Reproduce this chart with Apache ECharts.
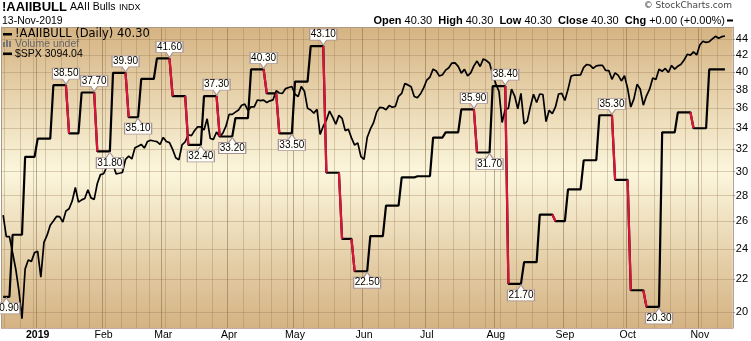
<!DOCTYPE html>
<html><head><meta charset="utf-8">
<script src="https://cdn.jsdelivr.net/npm/echarts@6/dist/echarts.min.js"></script>
<style>html,body{margin:0;padding:0;background:#fff}#c{width:751px;height:341px}</style>
</head><body><div id="c"></div>
<script>
// ---- calendar ----
const firstDay = '2018-12-14', lastAxisDay = '2019-11-15', lastDataDay = '2019-11-13';
const holidays = ['2018-12-25','2019-01-01','2019-01-21','2019-02-18','2019-04-19','2019-05-27','2019-07-04','2019-09-02'];
const monthNames = ['Jan','Feb','Mar','Apr','May','Jun','Jul','Aug','Sep','Oct','Nov','Dec'];

// ---- AAII bullish readings (weekly, dated Wednesday) ----
const aaiiDates = ['2018-12-12','2018-12-19','2018-12-26','2019-01-02','2019-01-09','2019-01-16','2019-01-23','2019-01-30',
 '2019-02-06','2019-02-13','2019-02-20','2019-02-27','2019-03-06','2019-03-13','2019-03-20','2019-03-27',
 '2019-04-03','2019-04-10','2019-04-17','2019-04-24','2019-05-01','2019-05-08','2019-05-15','2019-05-22',
 '2019-05-29','2019-06-05','2019-06-12','2019-06-19','2019-06-26','2019-07-03','2019-07-10','2019-07-17',
 '2019-07-24','2019-07-31','2019-08-07','2019-08-14','2019-08-21','2019-08-28','2019-09-04','2019-09-11',
 '2019-09-18','2019-09-25','2019-10-02','2019-10-09','2019-10-16','2019-10-23','2019-10-30','2019-11-06'];
const aaiiValues = [20.9,25.0,31.3,33.0,38.5,33.5,37.7,31.8,
 39.9,35.1,39.2,41.6,37.3,32.4,37.3,33.2,
 35.0,40.3,37.6,33.5,38.9,43.1,29.9,24.7,
 22.5,24.9,27.2,29.5,29.6,33.1,33.6,35.9,
 31.7,38.4,21.7,23.1,26.5,26.0,28.5,31.0,
 35.3,29.3,21.3,20.3,33.6,35.6,34.0,40.3];
// annotated turning points
const noteDates = ['2018-12-17','2019-01-15','2019-01-29','2019-02-05','2019-02-12','2019-02-19','2019-03-05','2019-03-19',
 '2019-03-26','2019-04-02','2019-04-16','2019-04-30','2019-05-14','2019-06-04','2019-07-23','2019-07-30',
 '2019-08-06','2019-08-13','2019-09-24','2019-10-15'];

// ---- $SPX daily closes ----
const spxDec18 = [2599.95,2545.94,2546.16,2506.96,2467.42,2416.62,2351.10,2467.70,2488.83,2485.74,2506.85];
const spxJan = [2510.03,2447.89,2531.94,2549.69,2574.41,2584.96,2596.64,2596.26,2582.61,2610.30,2616.10,2635.96,2670.71,2632.90,2638.70,2642.33,2664.76,2643.85,2640.00,2681.05,2704.10];
const spxFeb = [2706.53,2724.87,2737.70,2731.61,2706.05,2707.88,2709.80,2744.73,2753.03,2745.73,2775.60,2779.76,2784.70,2774.88,2792.67,2796.11,2793.90,2792.38,2784.49];
const spxMar = [2803.69,2792.81,2789.65,2771.45,2748.93,2743.07,2783.30,2791.52,2810.92,2808.48,2822.48,2832.94,2832.57,2824.23,2854.88,2800.71,2798.36,2818.46,2805.37,2815.44,2834.40];
const spxApr = [2867.19,2867.24,2873.40,2879.39,2892.74,2895.77,2878.20,2888.21,2888.32,2907.41,2905.58,2907.06,2900.45,2905.03,2907.97,2933.68,2927.25,2926.17,2939.88,2943.03,2945.83];
const spxMay = [2923.73,2917.52,2945.64,2932.47,2884.05,2879.42,2870.72,2881.40,2811.87,2834.41,2850.96,2876.32,2859.53,2840.23,2864.36,2856.27,2822.24,2826.06,2802.39,2783.02,2788.86,2752.06];
const spxJun = [2744.45,2803.27,2826.15,2843.49,2873.34,2886.73,2885.72,2879.84,2891.64,2886.98,2889.67,2917.75,2926.46,2954.18,2950.46,2945.35,2917.38,2913.78,2924.92,2941.76];
const spxJul = [2964.33,2973.01,2995.82,2990.41,2975.95,2979.63,2993.07,2999.91,3013.77,3014.30,3004.04,2984.42,2995.11,2976.61,2985.03,3005.47,3019.56,3003.67,3025.86,3020.97,3013.18,2980.38];
const spxAug = [2953.56,2932.05,2844.74,2881.77,2883.98,2938.09,2918.65,2882.70,2926.32,2840.60,2847.60,2888.68,2923.65,2900.51,2924.43,2922.95,2847.11,2878.38,2869.16,2887.94,2924.58,2926.46];
const spxSep = [2906.27,2937.78,2976.00,2978.71,2978.43,2979.39,3000.93,3009.57,3007.39,2997.96,3005.70,3006.73,3006.79,2992.07,2991.78,2966.60,2984.87,2977.62,2961.79,2976.74];
const spxOct = [2940.25,2887.61,2910.63,2952.01,2938.79,2893.06,2919.40,2938.13,2970.27,2966.15,2995.68,2989.69,2997.95,2986.20,3006.72,2995.99,3004.52,3010.29,3022.55,3039.42,3036.89,3046.77,3037.56];
const spxNov = [3066.91,3078.27,3074.62,3076.78,3085.18,3093.08,3087.01,3091.84,3094.04];

// ---- right axis tick labels ----
const yTicks = [20,22,24,26,28,30,32,34,36,38,40,42,44];

// ---- build ----
const F = 'Liberation Sans';
const cats = [];
for (let t = Date.parse(firstDay + 'T00:00:00Z'); t <= Date.parse(lastAxisDay + 'T00:00:00Z'); t += 86400000) {
  const dt = new Date(t), dow = dt.getUTCDay(), s = dt.toISOString().slice(0, 10);
  if (dow > 0 && dow < 6 && holidays.indexOf(s) < 0) cats.push(s);
}
const spx = [].concat(spxDec18, spxJan, spxFeb, spxMar, spxApr, spxMay, spxJun, spxJul, spxAug, spxSep, spxOct, spxNov);
const aaii = cats.map(c => {
  if (c > lastDataDay) return null;
  let v = null;
  for (let k = 0; k < aaiiDates.length; k++) if (aaiiDates[k] <= c) v = aaiiValues[k];
  return v;
});
const L = v => (v == null ? null : Math.log(v));
const aaiiLn = aaii.map(L);
const spxLn = cats.map((c, i) => (i < spx.length ? Math.log(spx[i]) : null));
const red = cats.map(() => null);
for (let i = 1; i < aaii.length; i++) {
  if (aaii[i] != null && aaii[i - 1] != null && aaii[i] < aaii[i - 1]) { red[i - 1] = aaiiLn[i - 1]; red[i] = aaiiLn[i]; }
}
const monthStart = cats.map((c, i) => i > 0 && c.slice(0, 7) !== cats[i - 1].slice(0, 7));
const weekStart = cats.map((c, i) => i > 0 && new Date(c).getUTCDay() < new Date(cats[i - 1]).getUTCDay());

const peakPath = 'path://M0,0H27V11H17L13.5,16L10,11H0Z';
const troughPath = 'path://M0,5H10L13.5,0L17,5H27V16H0Z';
const marks = noteDates.map(dt => {
  const i = cats.indexOf(dt), v = aaii[i], nx = aaii[i + 1];
  const peak = nx < v;
  return {
    name: v.toFixed(2), coord: [dt, Math.log(v)],
    symbol: peak ? peakPath : troughPath, symbolSize: [27, 16],
    symbolOffset: [0, peak ? -9 : 9],
    label: { offset: [0, peak ? -2.5 : 2.5] }
  };
});

const lastIdx = cats.indexOf(lastDataDay);
const lastA = aaii[lastIdx], prevA = aaii[lastIdx - 1];
const chg = lastA - prevA;
const lastSpx = spx[spx.length - 1];
const sgn = v => (v >= 0 ? '+' : '');

// y ranges (log space)
const yMin = 2.94966, yMax = 3.81872;
const sMin = 7.75359, sMax = 8.04594;

function txt(x, y, text, size, opts) {
  return { type: 'text', x: x, y: y, z: 20, style: Object.assign({
    text: text, fontSize: size, fontFamily: F, fontWeight: 'normal', fill: '#000', verticalAlign: 'middle', align: 'left'
  }, opts || {}) };
}

const chart = echarts.init(document.getElementById('c'), null, { renderer: 'canvas' });
const gridCol = 'rgba(150,118,80,0.32)';
chart.setOption({
  animation: false,
  grid: {
    left: 1.6, right: 18, top: 27, bottom: 12, show: true, borderWidth: 0,
    backgroundColor: new echarts.graphic.LinearGradient(0, 0, 0, 1, [
      { offset: 0, color: '#d5b382' }, { offset: 0.48, color: '#fbf6dc' }, { offset: 1, color: '#d4b282' }])
  },
  xAxis: [{
    type: 'category', data: cats, boundaryGap: true, position: 'bottom',
    axisLine: { show: true, lineStyle: { color: '#c0a0a0', type: 'dotted', width: 1 } },
    axisTick: { show: false },
    axisLabel: {
      interval: (i) => monthStart[i], margin: 2, fontSize: 10.5, fontFamily: F, color: '#000',
      formatter: (v) => { const m = +v.slice(5, 7) - 1; return m === 0 ? '{y|' + v.slice(0, 4) + '}' : monthNames[m]; },
      rich: { y: { fontWeight: 'bold', fontSize: 10.5, fontFamily: F, color: '#000' } }
    },
    splitLine: { show: true, interval: (i) => monthStart[i], lineStyle: { color: 'rgba(130,100,70,0.5)', width: 1 } }
  }, {
    type: 'category', data: cats, boundaryGap: true, position: 'top',
    axisLine: { show: true, lineStyle: { color: '#ab9a86', width: 1 } },
    axisTick: { show: false }, axisLabel: { show: false },
    splitLine: { show: true, interval: (i) => weekStart[i] && !monthStart[i], lineStyle: { color: gridCol, width: 1 } }
  }],
  yAxis: [{
    type: 'value', position: 'right', min: yMin, max: yMax,
    axisLine: { show: true, lineStyle: { color: '#b8a0a0', type: 'dotted' } },
    axisTick: { show: true, length: 2, customValues: yTicks.map(Math.log), lineStyle: { color: '#888' } },
    axisLabel: { customValues: yTicks.map(Math.log), formatter: v => String(Math.round(Math.exp(v))), fontSize: 11, fontFamily: F, color: '#000', margin: 3 },
    splitLine: { show: true, lineStyle: { color: gridCol, width: 1 } }
  }, {
    type: 'value', position: 'left', min: sMin, max: sMax,
    axisLine: { show: true, lineStyle: { color: '#ab9a86', width: 1 } },
    axisTick: { show: false }, axisLabel: { show: false }, splitLine: { show: false }
  }],
  series: [{
    name: '$SPX', type: 'line', yAxisIndex: 1, data: spxLn, symbol: 'none', z: 2,
    lineStyle: { color: '#000', width: 1.7 }, silent: true
  }, {
    name: '!AAIIBULL', type: 'line', yAxisIndex: 0, data: aaiiLn, symbol: 'none', z: 3,
    lineStyle: { color: '#000', width: 2.2 }, silent: true
  }, {
    name: 'down', type: 'line', yAxisIndex: 0, data: red, symbol: 'none', z: 4, connectNulls: false,
    lineStyle: { color: '#dc143c', width: 2.2 }, silent: true,
    markPoint: {
      data: marks, z: 10, silent: true,
      itemStyle: { color: '#fffef8', borderColor: '#a89494', borderWidth: 1 },
      label: { show: true, position: 'inside', formatter: '{b}', color: '#000', fontSize: 10, fontFamily: F }
    }
  }],
  graphic: [
    txt(2, 7.5, '!AAIIBULL', 13, { fontWeight: 'bold' }),
    txt(70, 7.5, 'AAII Bulls', 10.5),
    txt(119, 8, 'INDX', 9),
    txt(2, 21, '13-Nov-2019', 10.5),
    txt(732, 6, '\u00a9 StockCharts.com', 9, { fontFamily: 'DejaVu Sans', fill: '#444', align: 'right' }),
    txt(725, 20.5,
      '{b|Open} ' + lastA.toFixed(2) + '  {b|High} ' + lastA.toFixed(2) + '  {b|Low} ' + lastA.toFixed(2) + '  {b|Close} ' + lastA.toFixed(2) +
      '  {b|Chg} ' + sgn(chg) + chg.toFixed(2) + ' (' + sgn(chg) + (chg / prevA * 100).toFixed(2) + '%)', 11,
      { align: 'right', rich: { b: { fontSize: 11, fontFamily: F, fontWeight: 'bold', fill: '#000' } } }),
    { type: 'rect', shape: { x: 727, y: 19.5, width: 6, height: 2 }, style: { fill: '#000' } },
    { type: 'rect', shape: { x: 3, y: 33, width: 9, height: 2.5 }, style: { fill: '#000' }, z: 20 },
    txt(15, 34.5, '!AAIIBULL (Daily) ' + lastA.toFixed(2), 11.5, { fontFamily: 'DejaVu Sans' }),
    { type: 'rect', shape: { x: 3, y: 42, width: 2, height: 5 }, style: { fill: '#777' }, z: 20 },
    { type: 'rect', shape: { x: 6, y: 40, width: 2, height: 7 }, style: { fill: '#777' }, z: 20 },
    { type: 'rect', shape: { x: 9, y: 41, width: 2, height: 6 }, style: { fill: '#777' }, z: 20 },
    txt(15, 44.5, 'Volume undef', 10.5, { fill: '#666' }),
    { type: 'rect', shape: { x: 3, y: 52.5, width: 9, height: 2.5 }, style: { fill: '#000' }, z: 20 },
    txt(15, 54, '$SPX ' + lastSpx.toFixed(2), 10.5)
  ]
});
</script></body></html>
